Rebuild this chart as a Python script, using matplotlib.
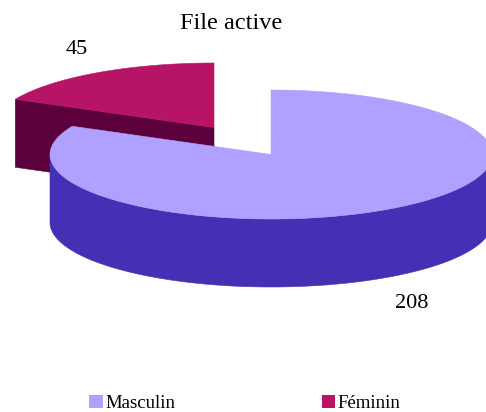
import numpy as np
import matplotlib
matplotlib.use("Agg")
import matplotlib.pyplot as plt
from matplotlib.patches import Patch, Polygon

plt.rcParams['font.family'] = ['Liberation Serif', 'DejaVu Serif']

title = "File active"
categories = ["Masculin", "Féminin"]
values = [208, 45]
top_colors = ["#B0A0FF", "#B81466"]
side_colors = ["#4330B4", "#5C003C"]

W, H = 486, 412
RX, RY, DEPTH = 221, 64.5, 68
CENTERS = [(271, 154.5), (214, 127.5)]

fig = plt.figure(figsize=(W / 100, H / 100), dpi=100)
ax = fig.add_axes([0, 0, 1, 1])
ax.set_xlim(0, W)
ax.set_ylim(H, 0)
ax.axis("off")

fr = np.cumsum([0] + values) / sum(values) * 2 * np.pi


def rim(c, a0, a1):
    t = np.linspace(a0, a1, 300)
    return np.column_stack([c[0] + RX * np.sin(t), c[1] - RY * np.cos(t)])


def wedge(i):
    c = CENTERS[i]
    a0, a1 = fr[i], fr[i + 1]
    r = rim(c, a0, a1)
    down = np.array([0, DEPTH])
    ax.add_patch(Polygon(np.vstack([c, r]), closed=True, fc=top_colors[i],
                         ec=top_colors[i], lw=0.4, zorder=3 + 2 * (1 - i)))
    # visible outer wall (front half of the rim)
    lo, hi = max(a0, np.pi / 2), min(a1, 3 * np.pi / 2)
    if hi > lo:
        f = rim(c, lo, hi)
        ax.add_patch(Polygon(np.vstack([f, (f + down)[::-1]]), closed=True,
                             fc=side_colors[i], ec=side_colors[i], lw=0.4,
                             zorder=2 + 2 * (1 - i)))
    # visible cut face
    if i == 1:
        p = r[0]
        ax.add_patch(Polygon([p, c, c + down, p + down], closed=True,
                             fc=side_colors[i], ec=side_colors[i], lw=0.4,
                             zorder=2))


wedge(1)
wedge(0)

ax.text(231, 23, title, ha="center", va="center", fontsize=17.5)
ax.text(412, 303, str(values[0]), ha="center", va="center", fontsize=16)
ax.text(77, 49, str(values[1]), ha="center", va="center", fontsize=16)

handles = [Patch(fc=c, ec="none") for c in top_colors]
ax.legend(handles, categories, ncol=2, frameon=False, fontsize=13.5,
          loc="center left", bbox_to_anchor=(89 / W, 1 - 403.5 / H),
          borderpad=0, borderaxespad=0, handlelength=0.72, handleheight=0.72,
          handletextpad=0.15, columnspacing=7.8)

fig.savefig("out.png", dpi=100)
